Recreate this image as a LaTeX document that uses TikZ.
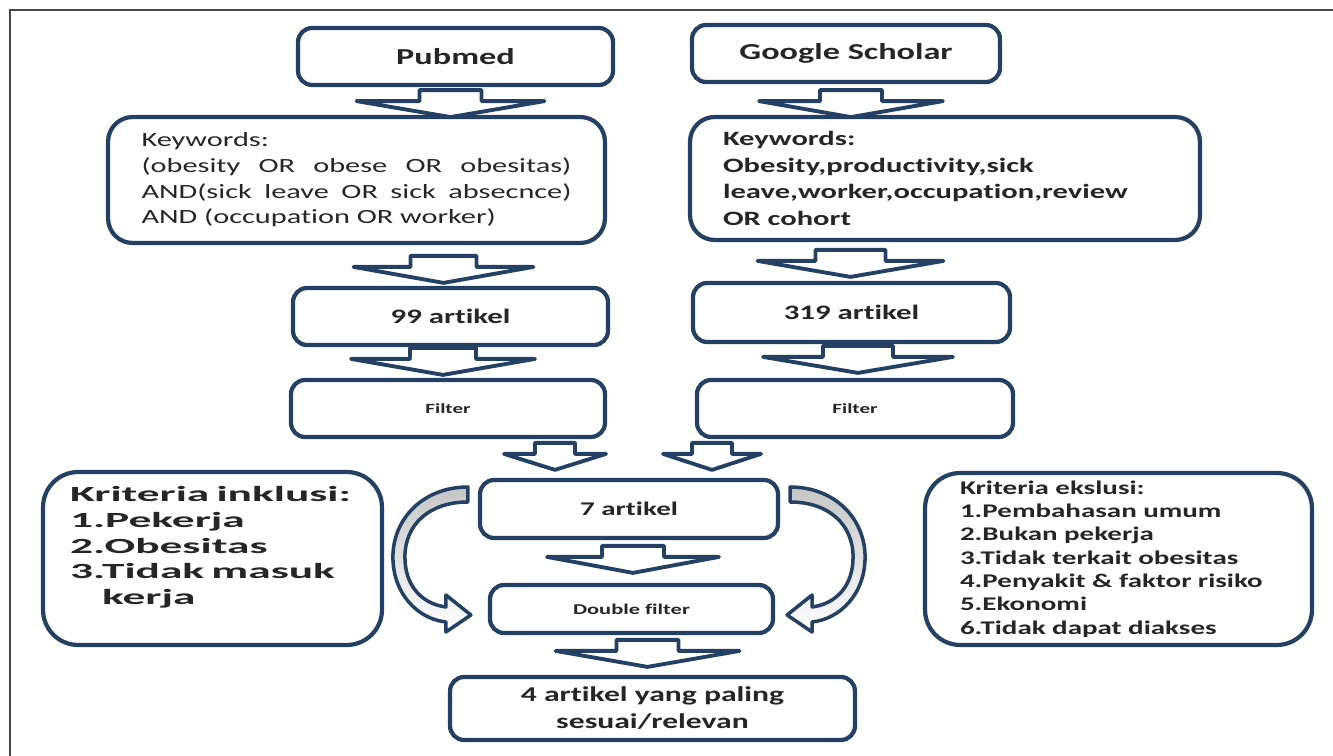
\documentclass[tikz,border=0pt]{standalone}
\usepackage{fontspec}
\setmainfont{Carlito}[FakeStretch=1.5, Ligatures=NoCommon]
\newfontfamily\widefont{Carlito}[FakeStretch=2.1, Ligatures=NoCommon]
\usetikzlibrary{calc}

\definecolor{boxblue}{RGB}{36,64,99}
\definecolor{txtgray}{RGB}{38,38,38}
\definecolor{framegray}{RGB}{70,70,70}

\tikzset{
  pics/fatarrow/.style 2 args={code={
    \filldraw[draw=boxblue, fill=white, line width=2.2pt, line join=round]
      (-#1,0) -- (#1,0) -- (#1,11) -- (#2,11) -- (0,27) -- (-#2,11) -- (-#1,11) -- cycle;
  }},
  pics/bendarrow/.style={code={
    \draw[draw=boxblue, line width=2pt, line join=round, top color=gray!45, middle color=white, bottom color=white]
      (-10,-22) .. controls (-55,-22) and (-85,10) .. (-85,48)
      .. controls (-85,85) and (-60,110) .. (-32,113)
      -- (-32,123) -- (-7,106) -- (-32,86) -- (-32,98)
      .. controls (-55,95) and (-73,78) .. (-73,48)
      .. controls (-73,15) and (-48,-7) .. (-10,-7) -- cycle;
  }}
}

\begin{document}
\begin{tikzpicture}[
  x=0.02cm, y=-0.02cm,
  box/.style={draw=boxblue, line width=2.4pt, rounded corners=8pt, fill=white, text=txtgray, align=center, inner sep=2pt},
  titlebox/.style={box, font=\bfseries\fontsize{13}{15}\selectfont},
  countbox/.style={box, font=\bfseries\fontsize{11.7}{14}\selectfont},
  filterbox/.style={box, font=\bfseries\fontsize{8}{10}\selectfont},
  kwbox/.style={box, rounded corners=14pt},
  critbox/.style={box, rounded corners=20pt, align=left}
]

\useasboundingbox (0,0) rectangle (1333,756);
\draw[framegray, line width=1.2pt] (10,756) -- (10,10) -- (1333,10);

% Nodes
\node[titlebox, minimum width=6.3cm, minimum height=1.14cm] (pubmed) at (455.5,56.5) {Pubmed};
\node[titlebox, minimum width=6.16cm, minimum height=1.14cm] (google) at (846,53.5) {Google Scholar};

\node[kwbox, minimum width=9.94cm, minimum height=2.52cm, text width=8.6cm, inner xsep=0.67cm,
      align=justify, font=\fontsize{11.5}{14.6}\selectfont] (kwpub) at (356.5,180)
  {Keywords:\\(obesity OR obese OR obesitas)\linebreak AND(sick leave OR sick absecnce)\linebreak AND (occupation OR worker)};
\node[kwbox, minimum width=10.2cm, minimum height=2.46cm, text width=8.88cm, inner xsep=0.66cm,
      align=left, font=\bfseries\fontsize{11.6}{15.1}\selectfont] (kwgoo) at (945,178.5)
  {Keywords:\\Obesity,productivity,sick\\leave,worker,occupation,review\\OR cohort};

\node[countbox, minimum width=6.3cm, minimum height=1.14cm] (n99) at (450.5,316.5) {99 artikel};
\node[countbox, minimum width=6.34cm, minimum height=1.18cm] (n319) at (851.5,312.5) {319 artikel};

\node[filterbox, minimum width=6.28cm, minimum height=1.14cm] (filtL) at (448,408.5) {Filter};
\node[filterbox, minimum width=6.32cm, minimum height=1.14cm] (filtR) at (855,408.5) {Filter};

\node[box, minimum width=5.96cm, minimum height=1.16cm, font=\bfseries\fontsize{11}{13}\selectfont] (seven) at (629,509) {7 artikel};
\node[box, minimum width=5.66cm, minimum height=0.96cm, font=\bfseries\fontsize{8.5}{10}\selectfont] (dbl) at (631.5,609) {Double filter};
\node[box, minimum width=8.1cm, minimum height=1.26cm, font=\bfseries\fontsize{12}{15.3}\selectfont] (final) at (652.5,708.5)
  {4 artikel yang paling\\sesuai/relevan};

\node[critbox, minimum width=6.78cm, minimum height=3.46cm, text width=5.7cm, inner xsep=0.54cm,
      font=\widefont\bfseries\fontsize{12.3}{14.7}\selectfont] (incl) at (212.5,558.5)
  {Kriteria inklusi:\\1.Pekerja\\2.Obesitas\\3.Tidak masuk\\\hspace*{0.64cm}kerja\\~};
\node[critbox, minimum width=7.74cm, minimum height=3.44cm, text width=6.34cm, inner xsep=0.7cm,
      font=\bfseries\fontsize{11}{13.3}\selectfont] (excl) at (1118.5,559)
  {Kriteria ekslusi:\\1.Pembahasan umum\\2.Bukan pekerja\\3.Tidak terkait obesitas\\4.Penyakit \& faktor risiko\\5.Ekonomi\\6.Tidak dapat diakses};

% Arrows
\pic at ($(pubmed.south)+(-5,3)$) {fatarrow={31}{94}};
\pic at ($(google.south)+(5,6)$) {fatarrow={31}{92}};
\pic at ($(n99.north)+(-7,-30)$) {fatarrow={33}{90}};
\pic at ($(n319.north)+(-1,-31)$) {fatarrow={35}{93}};
\pic at ($(filtL.north)+(-5,-30)$) {fatarrow={33}{92}};
\pic at ($(filtR.north)+(3,-32)$) {fatarrow={35}{95}};
\pic at ($(seven.north)+(-74,-35)$) {fatarrow={20}{51}};
\pic at ($(seven.north)+(83,-35)$) {fatarrow={20}{49}};
\pic at ($(dbl.north)+(1.5,-37)$) {fatarrow={31}{86}};
\pic at ($(final.north)+(-5,-35)$) {fatarrow={31}{92}};

% Bent arrows round 7 artikel
\pic at (seven.west) {bendarrow};
\pic[xscale=-1] at (seven.east) {bendarrow};

\end{tikzpicture}
\end{document}
